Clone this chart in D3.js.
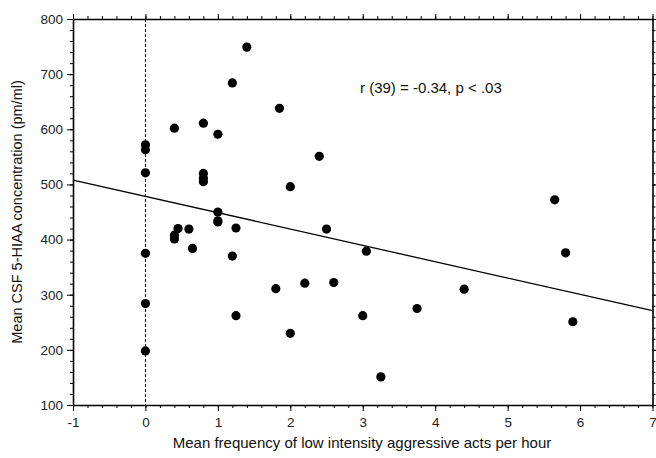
<!DOCTYPE html>
<html>
<head>
<meta charset="utf-8">
<script src="https://cdn.jsdelivr.net/npm/d3@7"></script>
<style>
  body { margin: 0; background: #fff; }
  svg { display: block; font-family: "Liberation Sans", Arial, sans-serif; }
  .axis path, .axis line { stroke: #000; }
</style>
</head>
<body>
<svg id="chart" width="656" height="458"></svg>
<script>
// aggression frequency (acts/hour) vs CSF 5-HIAA (pm/ml)
var freq = [0, 0, 0, 0, 0, 0,
            0.4, 0.4, 0.4, 0.45, 0.6, 0.65,
            0.8, 0.8, 0.8, 0.8,
            1.0, 1.0, 1.0, 1.0,
            1.2, 1.2, 1.25, 1.25, 1.4,
            1.8, 1.85, 2.0, 2.0, 2.2, 2.4, 2.5, 2.6,
            3.0, 3.05, 3.25, 3.75, 4.4, 5.65, 5.8, 5.9];
var hiaa = [572, 563, 521, 375, 284, 198,
            602, 408, 401, 420, 419, 384,
            611, 520, 511, 505,
            591, 450, 434, 432,
            684, 370, 421, 262, 749,
            311, 638, 496, 230, 321, 551, 419, 322,
            262, 379, 151, 275, 310, 472, 376, 251];

// regression line ends
var fitX = [-1, 7];
var fitY = [508, 271];

var xTicks = [-1, 0, 1, 2, 3, 4, 5, 6, 7];
var yTicks = [100, 200, 300, 400, 500, 600, 700, 800];

var svg = d3.select("#chart");
var margin = {left: 73, top: 19, right: 3.5, bottom: 53};
var w = 656 - margin.left - margin.right,
    h = 458 - margin.top - margin.bottom;

var g = svg.append("g")
    .attr("transform", "translate(" + margin.left + "," + margin.top + ")");

var x = d3.scaleLinear().domain([-1, 7]).range([0, w]);
var y = d3.scaleLinear().domain([100, 800]).range([h, 0]);

var minorX = d3.range(-1, 7.001, 0.2),
    minorY = d3.range(100, 800.1, 20);

// minor ticks
function minor(axis, vals, tr) {
  g.append("g")
      .attr("class", "axis")
      .attr("transform", tr)
      .call(axis.tickValues(vals).tickSize(3).tickFormat(""))
      .select(".domain").remove();
}
minor(d3.axisBottom(x), minorX, "translate(0," + h + ")");
minor(d3.axisTop(x), minorX, "translate(0,0)");
minor(d3.axisLeft(y), minorY, "translate(0,0)");
minor(d3.axisRight(y), minorY, "translate(" + w + ",0)");

// major ticks + labels
g.append("g")
    .attr("class", "axis")
    .attr("transform", "translate(0," + h + ")")
    .call(d3.axisBottom(x).tickValues(xTicks).tickSize(6).tickSizeOuter(0).tickPadding(6)
      .tickFormat(function(d) { return String(d); }))
    .call(function(s) { s.selectAll("text").attr("font-size", 13.5).attr("fill", "#222"); })
    .select(".domain").attr("stroke-width", 1.6);

g.append("g")
    .attr("class", "axis")
    .call(d3.axisTop(x).tickValues(xTicks).tickSize(5).tickSizeOuter(0).tickFormat(""))
    .select(".domain").attr("stroke-width", 1.6);

g.append("g")
    .attr("class", "axis")
    .call(d3.axisLeft(y).tickValues(yTicks).tickSize(6).tickSizeOuter(0).tickPadding(4))
    .call(function(s) { s.selectAll("text").attr("font-size", 13.5).attr("fill", "#222"); })
    .select(".domain").attr("stroke-width", 1.6);

g.append("g")
    .attr("class", "axis")
    .attr("transform", "translate(" + w + ",0)")
    .call(d3.axisRight(y).tickValues(yTicks).tickSize(5).tickSizeOuter(0).tickFormat(""))
    .select(".domain").attr("stroke-width", 1.6);

g.selectAll(".axis text").attr("font-family", "Liberation Sans, Arial, sans-serif");

// dashed zero line
g.append("line")
    .attr("x1", x(0)).attr("x2", x(0))
    .attr("y1", 0).attr("y2", h)
    .attr("stroke", "#000")
    .attr("stroke-dasharray", "3,2");

// fitted line
g.append("line")
    .attr("x1", x(fitX[0])).attr("y1", y(fitY[0]))
    .attr("x2", x(fitX[1])).attr("y2", y(fitY[1]))
    .attr("stroke", "#000")
    .attr("stroke-width", 1.3);

g.selectAll(".dot")
    .data(freq)
  .enter().append("circle")
    .attr("class", "dot")
    .attr("cx", function(d) { return x(d); })
    .attr("cy", function(d, i) { return y(hiaa[i]); })
    .attr("r", 4.6)
    .attr("fill", "#000");

svg.append("text")
    .attr("x", 360)
    .attr("y", 93)
    .attr("font-size", 15)
    .attr("fill", "#111")
    .text("r (39) = -0.34, p < .03");

svg.append("text")
    .attr("x", 362)
    .attr("y", 448)
    .attr("text-anchor", "middle")
    .attr("font-size", 15)
    .attr("fill", "#111")
    .text("Mean frequency of low intensity aggressive acts per hour");

svg.append("text")
    .attr("transform", "translate(22,212) rotate(-90)")
    .attr("text-anchor", "middle")
    .attr("font-size", 14.5)
    .attr("fill", "#111")
    .text("Mean CSF 5-HIAA concentration (pm/ml)");
</script>
</body>
</html>
